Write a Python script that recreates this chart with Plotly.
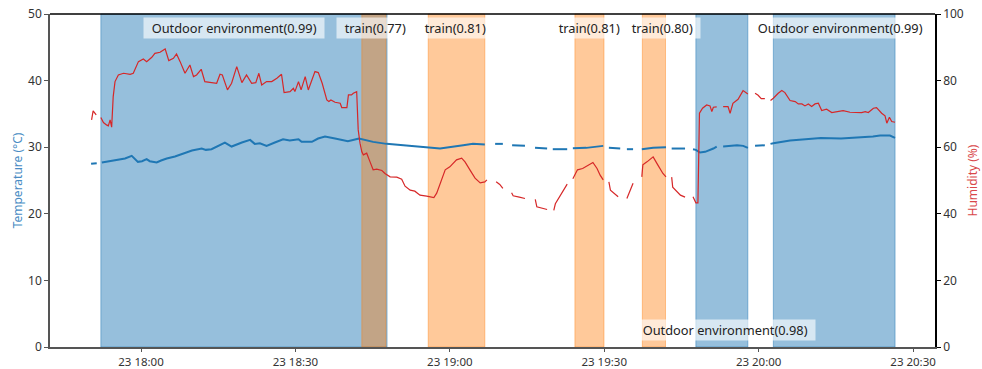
import pandas as pd
import plotly.graph_objects as go

BASE = pd.Timestamp("2024-01-23 18:00:00")

# ---- data (minutes relative to 23 18:00) ----
temp_minutes = [
    -9.7, -8.6, -8.2,
    -7.6, -5.05, -3.1, -1.8, -0.6, 0.2, 1.1, 1.7, 3.05, 3.9, 5.0, 6.6, 8.55, 9.9, 11.8, 12.6,
    13.7, 15.0, 16.3, 17.6, 18.5, 19.6, 21.2, 22.1, 23.1, 24.4, 26.0, 27.6, 28.9, 30.6, 31.2,
    33.2, 34.4, 35.75, 37.7, 40.2, 42.35, 45.1, 47.7, 51.6, 56.1, 58.1, 62.6, 64.5, 66.8, 68.0,
    68.8, 70.3, 71.0,
    72.1, 74.6, 75.3,
    76.55, 78.9, 79.6,
    80.0, 82.8, 83.4,
    83.9, 86.5, 89.8, 90.5,
    90.9, 93.1, 93.8,
    94.4, 95.6, 96.5,
    97.3, 99.5, 102.0, 102.6,
    103.1, 105.7, 106.5,
    107.25, 107.8, 108.6, 109.6, 111.2, 111.85, 112.5,
    113.1, 114.45, 115.8, 117.0, 117.9, 118.6,
    119.3, 121.2, 121.7,
    122.3, 122.85, 126.1, 129.6, 132.1, 136.0, 139.1, 142.2, 143.6, 145.5, 146.5,
]
temp_values = [
    27.5, 27.6, None,
    27.7, 28.0, 28.3, 28.7, 27.8, 27.9, 28.2, 27.9, 27.7, 28.0, 28.3, 28.6, 29.2, 29.5, 29.8, 29.6,
    29.7, 30.2, 30.7, 30.1, 30.4, 30.7, 31.1, 30.5, 30.6, 30.2, 30.7, 31.2, 31.0, 31.2, 30.8,
    30.8, 31.3, 31.6, 31.3, 30.9, 31.3, 30.8, 30.5, 30.2, 29.9, 29.8, 30.3, 30.5, 30.4, None,
    30.5, 30.5, None,
    30.3, 30.2, None,
    29.9, 29.8, None,
    29.7, 29.7, None,
    29.85, 29.9, 30.2, None,
    29.9, 29.8, None,
    29.7, 29.7, None,
    29.7, 29.9, 30.0, None,
    29.8, 29.8, None,
    29.7, 29.6, 29.2, 29.3, 29.8, 30.1, None,
    30.1, 30.2, 30.3, 30.2, 29.9, None,
    30.2, 30.3, None,
    30.5, 30.6, 31.0, 31.2, 31.4, 31.3, 31.4, 31.6, 31.75, 31.75, 31.4,
]

hum_minutes = [
    -9.6, -9.3, -8.7, -8.2,
    -7.8, -7.3, -6.7, -6.35, -6.0, -5.7, -5.4, -5.05, -4.4, -3.4, -2.1, -1.5, -0.5, 0.45, 1.1,
    2.1, 2.7, 3.7, 4.7, 5.4, 6.3, 6.9, 7.6, 8.55, 9.5, 10.2, 10.8, 11.7, 12.4, 13.4, 14.7,
    15.35, 15.8, 16.8, 17.6, 18.6, 19.2, 19.6, 20.5, 21.5, 22.3, 22.9, 23.45, 24.4, 25.4, 26.4,
    27.3, 27.8, 28.95, 29.6, 29.9, 30.6, 31.1, 31.9, 32.5, 33.8, 34.45, 35.2, 36.1, 36.5, 36.9,
    37.7, 38.7, 39.0, 40.0, 40.3, 40.9, 41.25, 41.9, 42.2, 42.55, 42.9, 43.2, 43.85, 44.5, 45.1,
    45.8, 46.8, 47.4, 48.4, 49.7, 50.65, 51.3, 52.3, 53.2, 54.2, 55.5, 56.9, 57.45, 58.4, 59.1,
    60.0, 61.3, 62.3, 62.95, 63.9, 64.9, 65.9, 66.8, 67.2, 68.3,
    69.0, 69.7, 70.3, 71.0,
    72.0, 72.3, 73.5, 74.6, 75.3,
    76.6, 76.9, 78.9, 79.6,
    80.2, 80.5, 82.8, 83.4,
    83.9, 84.8, 85.8, 86.6, 87.6, 87.8, 88.6, 89.2, 89.8, 90.4,
    90.9, 91.2, 92.7, 93.5,
    94.4, 95.6, 96.5,
    97.3, 97.5, 98.3, 99.3, 99.5, 100.4, 101.4, 102.0, 102.6,
    103.1, 103.3, 104.8, 105.7, 106.5,
    107.25, 107.8, 108.2, 108.5, 109.1, 109.9, 110.55, 110.9, 111.2, 111.85, 112.5,
    113.1, 114.05, 114.45, 115.0, 116.0, 116.97, 117.7, 117.9, 118.6,
    119.3, 119.9, 120.5, 121.2, 121.7,
    122.3, 122.85, 123.8, 124.5, 125.1, 126.1, 127.1, 127.7, 128.4, 129.0, 129.65, 130.3,
    130.95, 131.6, 132.25, 133.2, 134.2, 135.2, 136.4, 137.75, 139.05, 140.0, 140.7, 141.3,
    142.3, 142.9, 143.9, 144.55, 144.9, 145.4, 145.85, 146.5,
]
hum_values = [
    68.2, 70.9, 69.7, None,
    68.9, 67.4, 66.7, 66.4, 68.2, 66.0, 75.2, 79.7, 81.7, 82.2, 81.9, 82.2, 85.7, 86.5, 85.7,
    87.0, 88.2, 88.5, 89.5, 86.0, 86.7, 88.0, 85.7, 82.2, 84.7, 81.2, 81.7, 83.4, 79.7, 79.4, 79.2,
    81.9, 81.7, 77.2, 79.2, 84.2, 81.7, 79.4, 81.7, 79.2, 79.4, 82.2, 78.7, 79.7, 79.7, 80.7,
    81.9, 76.4, 76.7, 77.7, 76.7, 79.7, 77.2, 81.2, 77.2, 82.7, 82.4, 79.2, 74.2, 73.7, 74.2,
    73.5, 73.2, 71.9, 71.9, 75.7, 75.7, 76.2, 76.7, 65.2, 61.2, 58.6, 57.7, 58.2, 55.6, 53.2,
    53.4, 53.0, 52.1, 51.1, 51.0, 50.4, 48.3, 47.1, 46.8, 45.6, 45.3, 44.9, 46.2, 50.2, 53.2,
    54.1, 56.2, 56.7, 55.6, 53.2, 50.7, 49.3, 49.6, 50.2, None,
    49.6, 48.8, 47.6, None,
    46.3, 45.4, 45.0, 44.6, None,
    44.3, 42.1, 41.3, None,
    41.0, 43.0, 48.9, None,
    50.5, 53.2, 53.6, 54.3, 55.2, 55.4, 53.6, 51.6, 50.2, None,
    49.6, 47.1, 45.1, None,
    44.6, 49.2, None,
    51.1, 54.7, 55.6, 57.1, 57.1, 54.7, 52.1, 51.1, None,
    51.0, 48.0, 45.6, 45.0, None,
    45.1, 43.3, 43.3, 70.2, 71.7, 72.7, 72.4, 70.7, 72.0, 72.1, None,
    72.2, 72.2, 70.2, 73.2, 74.4, 77.0, 76.2, 76.0, None,
    76.2, 75.6, 74.6, 74.6, None,
    74.0, 74.7, 76.2, 77.0, 76.4, 74.0, 73.7, 73.0, 73.0, 72.4, 73.0, 72.2,
    73.0, 73.2, 71.0, 71.4, 70.4, 70.7, 71.0, 70.5, 70.4, 70.4, 70.7, 70.4,
    71.7, 71.9, 70.2, 69.4, 67.2, 69.0, 67.7, 67.5,
]

span_start = [-7.8, 42.9, 55.8, 84.3, 97.4, 107.8, 122.85]
span_end = [47.8, 47.6, 66.8, 89.95, 101.9, 117.9, 146.5]
span_kind = ["outdoor", "train", "train", "train", "train", "outdoor", "outdoor"]

label_text = ["Outdoor environment(0.99)", "train(0.77)", "train(0.81)", "train(0.81)",
              "train(0.80)", "Outdoor environment(0.98)", "Outdoor environment(0.99)"]
label_minute = [18.1, 45.5, 61.0, 87.0, 101.2, 113.5, 135.8]
label_temp = [47.85, 47.85, 47.85, 47.85, 47.85, 2.6, 47.85]

tick_minutes = [0, 30, 60, 90, 120, 150]
x_range_minutes = [-17.68, 154.26]


def t(m):
    return BASE + pd.Timedelta(minutes=m)


FONT = "Noto Sans"
BLUE = "#1f77b4"
RED = "#d62728"
span_fill = {"outdoor": "rgba(31,119,180,0.47)", "train": "rgba(255,127,14,0.42)"}

fig = go.Figure()
fig.add_trace(go.Scatter(
    x=[t(m) for m in temp_minutes], y=temp_values, mode="lines",
    line=dict(color=BLUE, width=2), connectgaps=False, yaxis="y", showlegend=False))
fig.add_trace(go.Scatter(
    x=[t(m) for m in hum_minutes], y=hum_values, mode="lines",
    line=dict(color=RED, width=1.2), connectgaps=False, yaxis="y2", showlegend=False))

for s, e, k in zip(span_start, span_end, span_kind):
    fig.add_shape(type="rect", xref="x", yref="paper", x0=t(s), x1=t(e), y0=0, y1=1,
                  fillcolor=span_fill[k], line=dict(color=span_fill[k], width=1), layer="below")

# top border line (black, like the twin axes frame)
fig.add_shape(type="line", xref="paper", yref="paper", x0=0, x1=1, y0=1, y1=1,
              line=dict(color="black", width=1.5))

NB = "\u00a0\u00a0"
for txt, m, yv in zip(label_text, label_minute, label_temp):
    fig.add_annotation(x=t(m), y=yv, xref="x", yref="y", text=NB + txt + NB, showarrow=False,
                       font=dict(family=FONT, size=12.8, color="#222"),
                       bgcolor="rgba(255,255,255,0.62)", borderpad=1)

fig.update_layout(
    width=982, height=369,
    margin=dict(l=50, r=47, t=14, b=22, autoexpand=False),
    plot_bgcolor="white", paper_bgcolor="white",
    font=dict(family=FONT, size=12, color="#333"),
    xaxis=dict(type="date", range=[t(x_range_minutes[0]), t(x_range_minutes[1])],
               tickvals=[t(m) for m in tick_minutes], tickformat="%d %H:%M",
               ticks="outside", ticklen=3, tickcolor="#555", tickwidth=1.2,
               showline=True, linecolor="#555", linewidth=1.5, automargin=False,
               showgrid=False, zeroline=False, tickfont=dict(size=11.5, color="#333")),
    yaxis=dict(range=[0, 50], tickvals=[0, 10, 20, 30, 40, 50],
               ticks="outside", ticklen=4, tickcolor="#555", tickwidth=1.2,
               showline=True, linecolor="#555", linewidth=1.5, automargin=False,
               showgrid=False, zeroline=False,
               title=dict(text="Temperature (°C)", font=dict(size=12, color="#4a8cc4"), standoff=3),
               tickfont=dict(size=12, color="#333")),
    yaxis2=dict(range=[0, 100], tickvals=[0, 20, 40, 60, 80, 100], overlaying="y", side="right",
                ticks="outside", ticklen=4, tickcolor="black", tickwidth=1.2,
                showline=True, linecolor="black", linewidth=1.5, automargin=False,
                showgrid=False, zeroline=False,
                title=dict(text="Humidity (%)", font=dict(size=12, color="#d9474a"), standoff=6),
                tickfont=dict(size=12, color="#333")),
)

fig.write_html("out.html")
